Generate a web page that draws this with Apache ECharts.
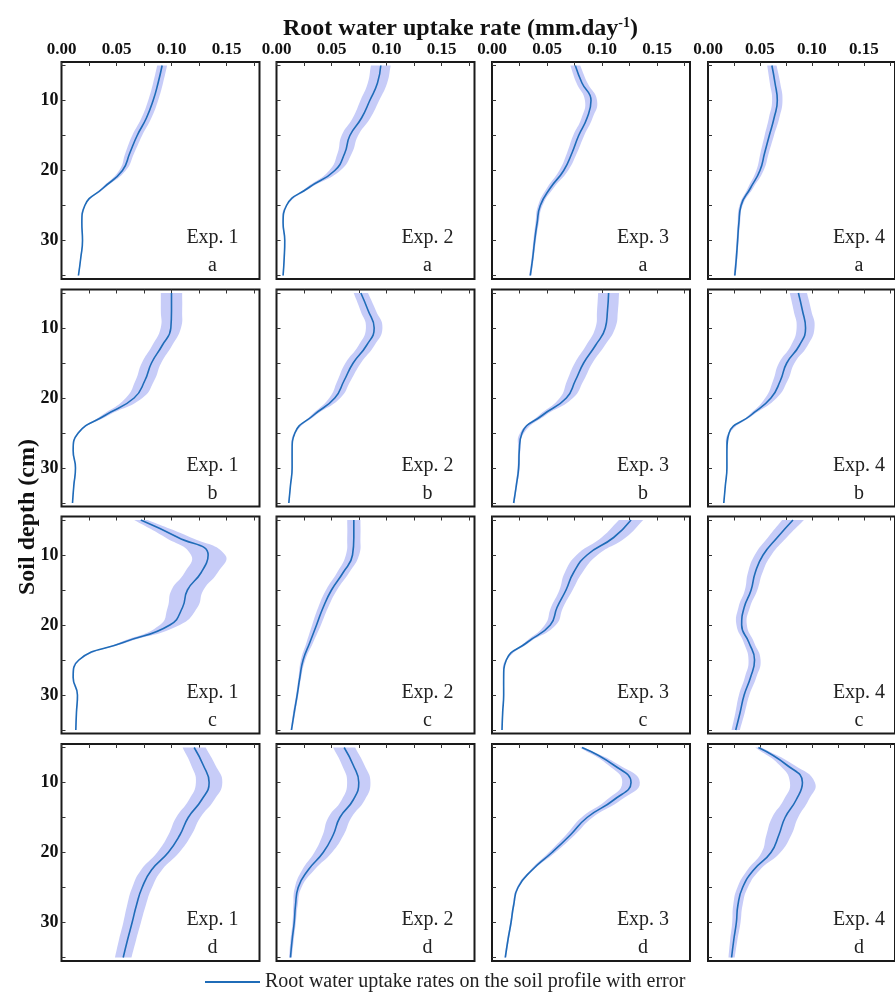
<!DOCTYPE html>
<html>
<head>
<meta charset="utf-8">
<script src="https://cdn.jsdelivr.net/npm/echarts@6/dist/echarts.min.js"></script>
<style>
html,body{margin:0;padding:0;background:#fff;}
#main{width:895px;height:992px;}
</style>
</head>
<body>
<div id="main"></div>
<script>
var myChart = echarts.init(document.getElementById('main'));

// soil depth (cm), shared by all panels
var depth = [5, 7.5, 10, 12.5, 15, 17.5, 20, 22.5, 25, 27.5, 30, 32.5, 35];
var xTicks = [0, 0.025, 0.05, 0.075, 0.1, 0.125, 0.15, 0.175];
var xLabels = [0, 0.05, 0.1, 0.15];
var yTicks = [5, 10, 15, 20, 25, 30, 35];
var yLabels = [10, 20, 30];
var rowNames = ['a', 'b', 'c', 'd'];
var expNames = ['Exp. 1', 'Exp. 2', 'Exp. 3', 'Exp. 4'];
var legendName = 'Root water uptake rates on the soil profile with error';

// root water uptake rate (mm/day) and error half width, row a..d, Exp 1..4
var a1 = [0.0915,0.0878,0.0833,0.0772,0.0688,0.0621,0.0554,0.0379,0.0212,0.0185,0.0191,0.0175,0.0154];
var a1e = [0.0045,0.0045,0.0045,0.0045,0.0045,0.004,0.003,0.0015,0.0005,0.0005,0.0005,0.0005,0.0005];
var a2 = [0.0948,0.0918,0.0848,0.0773,0.0667,0.0621,0.053,0.0288,0.0091,0.006,0.0075,0.007,0.006];
var a2e = [0.009,0.0088,0.0085,0.008,0.0075,0.0065,0.005,0.002,0.0007,0.0005,0.0005,0.0005,0.0005];
var a3 = [0.0757,0.0818,0.090,0.0864,0.0788,0.0727,0.0652,0.053,0.0439,0.041,0.0388,0.037,0.0348];
var a3e = [0.0045,0.005,0.0055,0.005,0.005,0.0045,0.004,0.003,0.002,0.0015,0.0012,0.001,0.001];
var a4 = [0.0615,0.0645,0.0667,0.0636,0.059,0.0545,0.05,0.0409,0.0318,0.0297,0.0285,0.0273,0.0258];
var a4e = [0.0045,0.005,0.005,0.005,0.0045,0.004,0.0035,0.0025,0.0015,0.0012,0.001,0.001,0.001];

var b1 = [0.100,0.100,0.0994,0.0915,0.0818,0.0758,0.066,0.0394,0.0152,0.0106,0.0127,0.0112,0.010];
var b1e = [0.0097,0.0097,0.0092,0.009,0.0088,0.0085,0.0075,0.003,0.0008,0.0005,0.0005,0.0005,0.0005];
var b2 = [0.0767,0.0833,0.0888,0.0818,0.0697,0.0615,0.053,0.0333,0.0167,0.0142,0.0142,0.0127,0.0112];
var b2e = [0.0065,0.007,0.0075,0.0072,0.007,0.006,0.005,0.002,0.0008,0.0005,0.0005,0.0005,0.0005];
var b3 = [0.106,0.105,0.103,0.094,0.0833,0.0758,0.0676,0.0455,0.0273,0.0248,0.0242,0.0221,0.0197];
var b3e = [0.0095,0.0095,0.009,0.0085,0.008,0.0075,0.006,0.003,0.0018,0.001,0.001,0.0008,0.0008];
var b4 = [0.087,0.0909,0.0939,0.0879,0.0758,0.0697,0.0606,0.0409,0.0203,0.0182,0.0182,0.0167,0.0152];
var b4e = [0.0083,0.0085,0.0086,0.008,0.0075,0.007,0.0055,0.002,0.0008,0.0005,0.0005,0.0005,0.0005];

var c1 = [0.0721,0.106,0.1333,0.127,0.1145,0.110,0.0985,0.056,0.0158,0.0106,0.0145,0.0136,0.013];
var c1e = [0.006,0.0115,0.0155,0.015,0.0145,0.0135,0.009,0.003,0.0008,0.0005,0.0005,0.0005,0.0005];
var c2 = [0.0703,0.0703,0.0691,0.0606,0.050,0.0424,0.0364,0.0303,0.0242,0.0212,0.0188,0.0161,0.0136];
var c2e = [0.006,0.006,0.006,0.0055,0.005,0.0045,0.004,0.003,0.002,0.0012,0.001,0.001,0.0008];
var c3 = [0.1264,0.1106,0.0864,0.0742,0.0673,0.0591,0.053,0.0318,0.013,0.0106,0.0106,0.0097,0.0091];
var c3e = [0.011,0.011,0.0095,0.008,0.006,0.0055,0.005,0.002,0.0008,0.0005,0.0005,0.0005,0.0005];
var c4 = [0.0818,0.0667,0.053,0.0455,0.0415,0.0348,0.0324,0.0394,0.0448,0.0409,0.0348,0.0309,0.0267];
var c4e = [0.0105,0.009,0.008,0.007,0.006,0.0055,0.005,0.005,0.0058,0.0055,0.005,0.0045,0.004];

var d1 = [0.1206,0.1288,0.1342,0.1273,0.1152,0.1076,0.097,0.0818,0.0733,0.0682,0.0642,0.060,0.0561];
var d1e = [0.0105,0.011,0.012,0.0115,0.011,0.0105,0.01,0.0095,0.009,0.0085,0.008,0.0078,0.0075];
var d2 = [0.0615,0.0697,0.0748,0.0697,0.0576,0.0515,0.0424,0.0288,0.0197,0.0173,0.0161,0.0142,0.0127];
var d2e = [0.01,0.0102,0.0106,0.0105,0.0105,0.0095,0.008,0.0055,0.003,0.002,0.0015,0.0015,0.0012];
var d3 = [0.0818,0.1106,0.1264,0.1106,0.0864,0.0712,0.0545,0.0364,0.0236,0.0197,0.0173,0.0145,0.0121];
var d3e = [0.002,0.005,0.008,0.0065,0.005,0.004,0.003,0.0015,0.001,0.0008,0.0008,0.0008,0.0008];
var d4 = [0.0485,0.0758,0.0909,0.0848,0.0742,0.0682,0.0606,0.0439,0.0333,0.0288,0.0273,0.0248,0.0227];
var d4e = [0.003,0.007,0.012,0.012,0.0125,0.012,0.009,0.006,0.005,0.0045,0.004,0.0035,0.003];

var rates = [[a1,a2,a3,a4],[b1,b2,b3,b4],[c1,c2,c3,c4],[d1,d2,d3,d4]];
var errs = [[a1e,a2e,a3e,a4e],[b1e,b2e,b3e,b4e],[c1e,c2e,c3e,c4e],[d1e,d2e,d3e,d4e]];

// layout
var lefts = [61.5, 276.5, 492, 708];
var tops = [62, 289.5, 516.5, 744];
var W = 198, H = 217;
var serif = 'Liberation Serif';
var lineColor = '#1f6cb8';
var bandColor = '#c7ccf8';

var grids = [], xAxes = [], yAxes = [], series = [], texts = [];

function pairs(x, y){
  var out = [];
  for (var i = 0; i < x.length; i++) out.push([x[i], y[i]]);
  return out;
}

// error band: polygon left side down, right side up (corners doubled to keep ends flat)
function band(k, rate, err){
  return {
    type: 'custom',
    xAxisIndex: k,
    yAxisIndex: k,
    silent: true,
    z: 1,
    data: [[0, 20]],
    renderItem: function(params, api){
      var pts = [];
      var n = depth.length;
      for (var i = 0; i < n; i++) {
        var p = api.coord([rate[i] - err[i], depth[i]]);
        pts.push(p);
        if (i === 0 || i === n - 1) pts.push(p.slice());
      }
      for (var j = n - 1; j >= 0; j--) {
        var q = api.coord([rate[j] + err[j], depth[j]]);
        pts.push(q);
        if (j === 0 || j === n - 1) pts.push(q.slice());
      }
      return {type: 'polygon', shape: {points: pts, smooth: 0.5}, style: {fill: bandColor}};
    }
  };
}

for (var r = 0; r < 4; r++) {
  for (var c = 0; c < 4; c++) {
    var k = r * 4 + c;
    grids.push({left: lefts[c], top: tops[r], width: W, height: H, show: true,
      borderColor: '#1a1a1a', borderWidth: 2, backgroundColor: 'transparent'});
    xAxes.push({
      gridIndex: k, type: 'value', position: 'top', min: 0, max: 0.18,
      axisLine: {show: false}, splitLine: {show: false},
      axisTick: {show: true, inside: true, length: 4, customValues: xTicks, lineStyle: {color: '#333'}},
      axisLabel: {show: r === 0, customValues: xLabels, margin: 4,
        formatter: function(v){ return v.toFixed(2); },
        fontFamily: serif, fontWeight: 'bold', fontSize: 17, color: '#111'}
    });
    yAxes.push({
      gridIndex: k, type: 'value', inverse: true, min: 4.5, max: 35.5,
      axisLine: {show: false}, splitLine: {show: false},
      axisTick: {show: true, inside: true, length: 4, customValues: yTicks, lineStyle: {color: '#333'}},
      axisLabel: {show: c === 0, customValues: yLabels, margin: 3,
        fontFamily: serif, fontWeight: 'bold', fontSize: 18, color: '#111'}
    });
    series.push(band(k, rates[r][c], errs[r][c]));
    series.push({
      name: legendName, type: 'line', xAxisIndex: k, yAxisIndex: k,
      data: pairs(rates[r][c], depth), smooth: 0.5, symbol: 'none', z: 2,
      lineStyle: {color: lineColor, width: 1.6}, itemStyle: {color: lineColor}
    });
    texts.push({type: 'text', x: lefts[c] + W - 47, y: tops[r] + H - 41,
      style: {text: expNames[c], font: '20px "Liberation Serif"', fill: '#222', textAlign: 'center', textVerticalAlign: 'middle'}});
    texts.push({type: 'text', x: lefts[c] + W - 47, y: tops[r] + H - 13,
      style: {text: rowNames[r], font: '20px "Liberation Serif"', fill: '#222', textAlign: 'center', textVerticalAlign: 'middle'}});
  }
}

texts.push({type: 'text', x: 28, y: 517, rotation: Math.PI / 2,
  style: {text: 'Soil depth (cm)', font: 'bold 24px "Liberation Serif"', fill: '#111', textAlign: 'center', textVerticalAlign: 'middle'}});

var option = {
  animation: false,
  backgroundColor: '#fff',
  title: {
    text: 'Root water uptake rate (mm.day{sup|-1})',
    left: 278, top: 11,
    textStyle: {fontFamily: serif, fontWeight: 'bold', fontSize: 24, color: '#111', lineHeight: 26,
      rich: {sup: {fontFamily: serif, fontWeight: 'bold', fontSize: 14, lineHeight: 12, verticalAlign: 'top', color: '#111'}}}
  },
  legend: {
    data: [legendName], left: 200, top: 967, icon: 'rect', itemWidth: 55, itemHeight: 2, itemGap: 5,
    textStyle: {fontFamily: serif, fontSize: 20, color: '#222'}
  },
  grid: grids,
  xAxis: xAxes,
  yAxis: yAxes,
  series: series,
  graphic: texts
};

myChart.setOption(option);
</script>
</body>
</html>
